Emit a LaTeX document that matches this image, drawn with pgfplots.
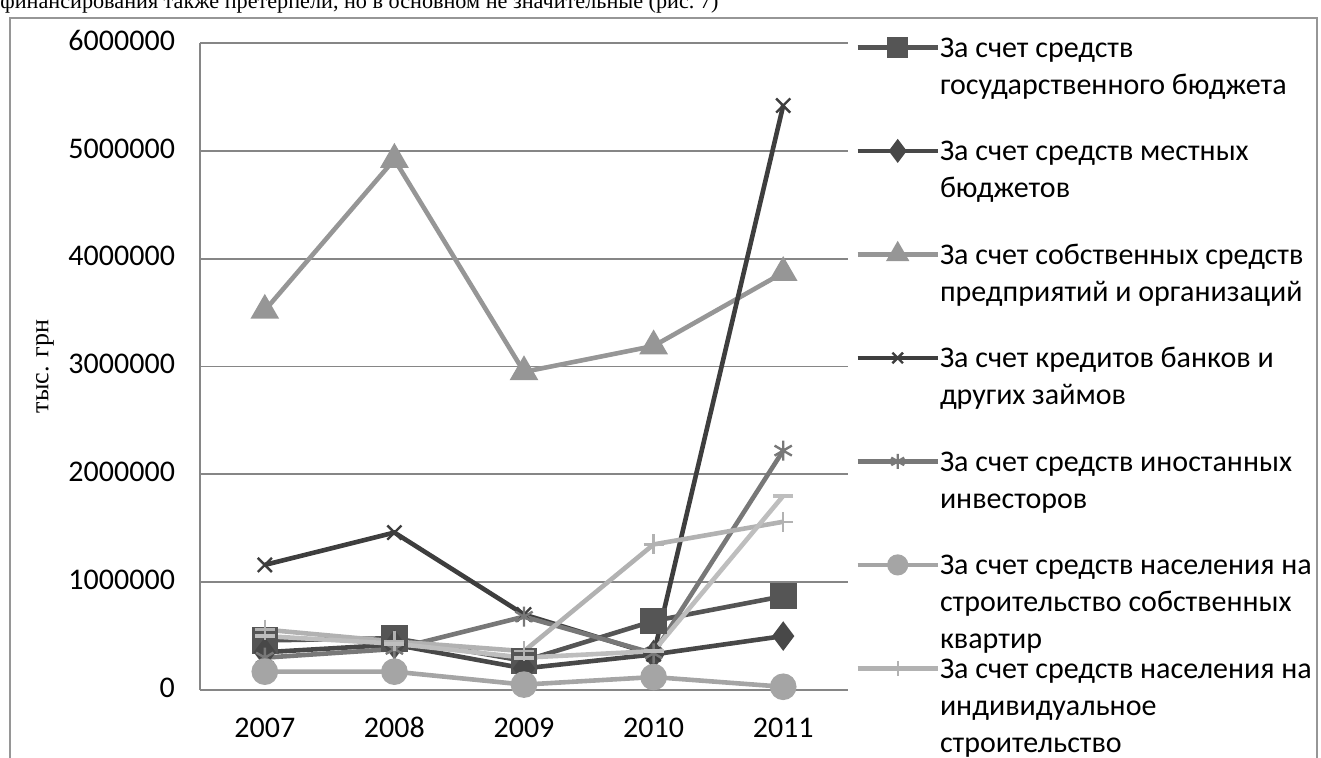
\documentclass[border=0pt]{standalone}
\usepackage{fontspec}
\setmainfont{Carlito}
\newfontfamily\timesf{Liberation Serif}
\usepackage{pgfplots}
\pgfplotsset{compat=1.18}

\definecolor{gridc}{RGB}{134,134,134}
\definecolor{framec}{RGB}{150,150,150}
\definecolor{c1}{RGB}{85,85,85}
\definecolor{c2}{RGB}{72,72,72}
\definecolor{c3}{RGB}{150,150,150}
\definecolor{c4}{RGB}{62,62,62}
\definecolor{c5}{RGB}{120,120,120}
\definecolor{c6}{RGB}{165,165,165}
\definecolor{c7}{RGB}{178,178,178}
\definecolor{c8}{RGB}{190,190,190}

\newcommand{\entry}[1]{\parbox[t]{200pt}{#1}}

\begin{document}
\begin{tikzpicture}[x=0.5pt,y=0.5pt]
\useasboundingbox (0,0) rectangle (1321,758);
\clip (0,0) rectangle (1321,758);

% cut-off line of body text above the figure
\node[anchor=base west, inner sep=0pt, font=\timesf\fontsize{11.1}{12}\selectfont]
  at (0,749) {финансирования также претерпели, но в основном не значительные (рис.~7)};

% chart frame
\draw[framec, line width=1.2pt] (10,740) rectangle (1317,-30);

\begin{axis}[
  at={(100pt,34pt)}, anchor=south west,
  scale only axis, width=324pt, height=323.5pt,
  xmin=-0.5, xmax=4.5, ymin=0, ymax=6000000,
  axis lines*=left,
  axis line style={gridc, line width=0.9pt},
  xtick={0,1,2,3,4},
  xticklabels={2007,2008,2009,2010,2011},
  ytick={0,1000000,2000000,3000000,4000000,5000000,6000000},
  yticklabels={0,1000000,2000000,3000000,4000000,5000000,6000000},
  scaled y ticks=false,
  major tick length=0pt,
  ymajorgrids, grid style={gridc, line width=0.9pt},
  /pgf/number format/assume math mode=true,
  typeset ticklabels with strut,
  tick label style={font=\fontsize{15}{18}\selectfont},
  yticklabel style={xshift=-9pt},
  xticklabel style={yshift=-7.5pt},
  ylabel={\timesf тыс. грн},
  every axis y label/.style={at={(rel axis cs:0,0.5)}, rotate=90, anchor=center,
    yshift=77.5pt, font=\fontsize{13}{15}\selectfont},
  clip=false,
  legend cell align=left,
  legend image code/.code={\draw[mark repeat=2, mark phase=2, #1,
      every mark/.append style={scale=0.75}]
    plot coordinates {(0pt,5pt) (20pt,5pt) (40pt,5pt)};},
  legend style={at={(rel axis cs:1,1)}, anchor=north west, xshift=3.5pt, yshift=4pt,
    draw=none, fill=none, inner sep=0pt, row sep=40.75pt, column sep=0pt,
    cells={anchor=base west}, nodes={inner sep=0pt, text height=11pt, text depth=0pt},
    font=\fontsize{15}{18.5}\selectfont},
  every axis plot/.append style={line width=2.3pt},
]
\addplot[c1, mark=square*, mark size=5.5pt, mark options={solid, fill=c1}]
  coordinates {(0,460000) (1,480000) (2,270000) (3,640000) (4,870000)};
\addlegendentry{\entry{За счет средств\\государственного бюджета}}

\addplot[c2, mark=diamond*, mark size=5.5pt, mark options={solid, fill=c2}]
  coordinates {(0,350000) (1,420000) (2,200000) (3,330000) (4,500000)};
\addlegendentry{\entry{За счет средств местных\\бюджетов}}

\addplot[c3, mark=triangle*, mark size=6pt, mark options={solid, fill=c3}]
  coordinates {(0,3520000) (1,4920000) (2,2950000) (3,3190000) (4,3870000)};
\addlegendentry{\entry{За счет собственных средств\\предприятий и организаций}}

\addplot[c4, mark=x, mark size=5pt, mark options={solid, line width=1.2pt}]
  coordinates {(0,1160000) (1,1460000) (2,700000) (3,330000) (4,5420000)};
\addlegendentry{\entry{За счет кредитов банков и\\других займов}}

\addplot[c5, mark=asterisk, mark size=5pt, mark options={solid, line width=1.2pt}]
  coordinates {(0,300000) (1,380000) (2,680000) (3,340000) (4,2220000)};
\addlegendentry{\entry{За счет средств иностанных\\инвесторов}}

\addplot[c6, mark=*, mark size=5.5pt, mark options={solid, fill=c6}]
  coordinates {(0,170000) (1,170000) (2,50000) (3,120000) (4,30000)};
\addlegendentry{\entry{За счет средств населения на\\строительство собственных\\квартир}}

\addplot[c7, mark=+, mark size=5pt, mark options={solid, line width=1.2pt}]
  coordinates {(0,560000) (1,450000) (2,360000) (3,1350000) (4,1560000)};
\addlegendentry{\entry{За счет средств населения на\\индивидуальное\\строительство}}

\addplot[c8, mark=-, mark size=5pt, mark options={solid, line width=2pt}, forget plot]
  coordinates {(0,500000) (1,430000) (2,300000) (3,360000) (4,1800000)};
\end{axis}
\end{tikzpicture}
\end{document}
